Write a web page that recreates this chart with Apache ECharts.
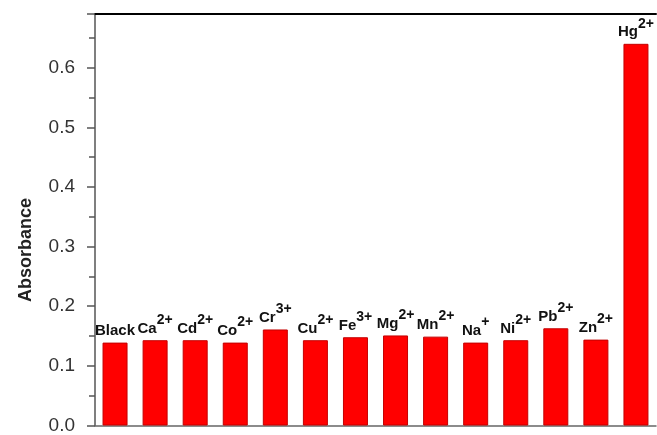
<!DOCTYPE html>
<html>
<head>
<meta charset="utf-8">
<script src="https://cdn.jsdelivr.net/npm/echarts@6/dist/echarts.min.js"></script>
<style>
  html, body { margin: 0; padding: 0; background: #fff; }
  #main { width: 657px; height: 435px; }
</style>
</head>
<body>
<div id="main"></div>
<script>
// ions on the x axis, with their charge as superscript
var ions = ['Black', 'Ca', 'Cd', 'Co', 'Cr', 'Cu', 'Fe', 'Mg', 'Mn', 'Na', 'Ni', 'Pb', 'Zn', 'Hg'];
var charges = ['', '2+', '2+', '2+', '3+', '2+', '3+', '2+', '2+', '+', '2+', '2+', '2+', '2+'];
var absorbance = [0.139, 0.143, 0.143, 0.139, 0.161, 0.143, 0.148, 0.151, 0.149, 0.139, 0.143, 0.163, 0.144, 0.640];

var font = '"Liberation Sans", Arial, sans-serif';

var chart = echarts.init(document.getElementById('main'));

chart.setOption({
  animation: false,
  grid: { left: 95, top: 14, right: 1, bottom: 5 },
  xAxis: [
    {
      type: 'category',
      data: ions,
      axisLine: { lineStyle: { color: '#666', width: 1.5 } },
      axisTick: { show: false },
      axisLabel: { show: false }
    },
    {
      type: 'category',
      position: 'top',
      data: ions,
      axisLine: { lineStyle: { color: '#000', width: 2 } },
      axisTick: { show: false },
      axisLabel: { show: false }
    }
  ],
  yAxis: {
    type: 'value',
    min: 0,
    max: 0.69,
    interval: 0.1,
    splitLine: { show: false },
    axisLine: { show: true, lineStyle: { color: '#555', width: 1.5 } },
    axisTick: { show: true, length: 8, lineStyle: { color: '#555', width: 1.5 } },
    minorTick: { show: true, splitNumber: 2, length: 6, lineStyle: { color: '#555', width: 1.5 } },
    axisLabel: {
      margin: 20,
      fontFamily: font,
      fontSize: 19,
      color: '#333',
      showMaxLabel: false,
      formatter: function (v) { return v.toFixed(1); }
    }
  },
  graphic: [
    {
      type: 'text',
      x: 26,
      y: 250,
      rotation: Math.PI / 2,
      style: {
        text: 'Absorbance',
        font: 'bold 18px ' + font,
        fill: '#222',
        align: 'center',
        verticalAlign: 'middle'
      }
    }
  ],
  series: [
    {
      type: 'bar',
      data: absorbance,
      barWidth: 25,
      itemStyle: { color: '#ff0000', borderColor: '#c40000', borderWidth: 1 },
      label: {
        show: true,
        position: 'top',
        distance: 4,
        formatter: function (p) {
          var c = charges[p.dataIndex];
          return '{b|' + ions[p.dataIndex] + '}' + (c ? '{s|' + c + '}' : '');
        },
        rich: {
          b: { fontFamily: font, fontWeight: 'bold', fontSize: 15, color: '#111', lineHeight: 23, verticalAlign: 'bottom' },
          s: { fontFamily: font, fontWeight: 'bold', fontSize: 14, color: '#111', lineHeight: 23, verticalAlign: 'top' }
        }
      }
    }
  ]
});
</script>
</body>
</html>
